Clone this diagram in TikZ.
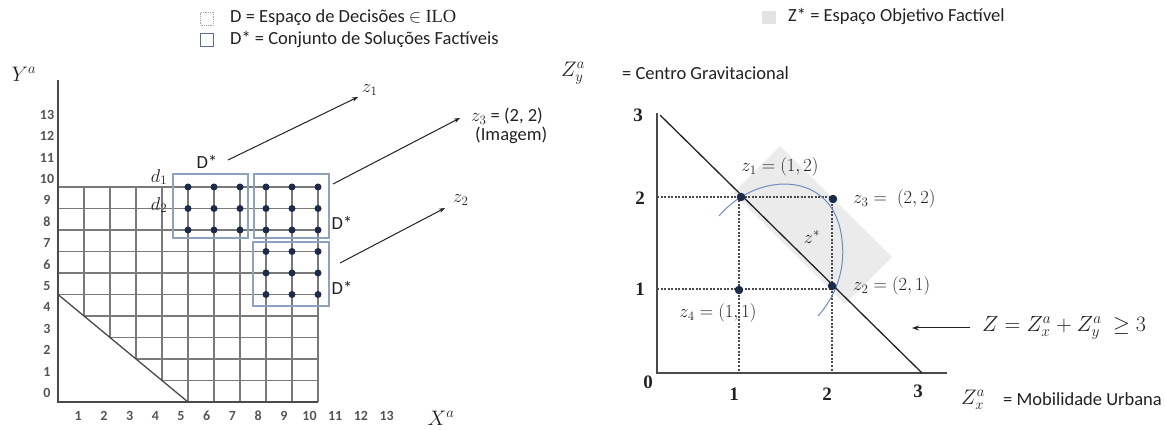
\RequirePackage{fix-cm}
\documentclass[tikz,border=0pt]{standalone}
\usepackage{fontspec}
\setmainfont{Carlito}
\newfontfamily\serifilo{Liberation Serif}
\usetikzlibrary{arrows.meta}
\definecolor{gridc}{HTML}{7A7A7A}
\definecolor{axisc}{HTML}{4A4A4A}
\definecolor{boxc}{HTML}{8EA2C0}
\definecolor{dotc}{HTML}{1C2B4A}
\definecolor{arcc}{HTML}{6F8DBF}
\definecolor{shadec}{HTML}{EBEBEB}
\definecolor{numc}{HTML}{555555}
\definecolor{txtc}{HTML}{222222}
\definecolor{legb}{HTML}{5A6E92}
\begin{document}
\begin{tikzpicture}[x=1pt,y=-1pt,
  lbl/.style={font=\fontsize{18.5}{20}\selectfont, text=txtc, inner sep=0pt},
  mlbl/.style={font=\fontsize{18.5}{20}\selectfont, text=txtc, inner sep=0pt},
  big/.style={font=\fontsize{22}{24}\selectfont, text=txtc, inner sep=0pt},
  num/.style={font=\fontsize{14}{16}\selectfont\bfseries, text=numc, inner sep=0pt},
  rnum/.style={font=\fontsize{19}{21}\selectfont\serifilo\bfseries, text=txtc, inner sep=0pt},
  gridl/.style={draw=gridc, line width=1.1pt},
  axisl/.style={draw=axisc, line width=1.3pt},
  dbox/.style={draw=boxc, line width=1.1pt},
  dotn/.style={circle, fill=dotc, inner sep=0pt, minimum size=7pt},
  rdot/.style={circle, fill=dotc, inner sep=0pt, minimum size=8.5pt},
  arr/.style={draw=txtc, line width=1pt, -{Stealth[length=6pt,width=4.5pt]}},
  dotl/.style={draw=axisc, line width=1.1pt, dash pattern=on 2pt off 1.5pt},
]
\useasboundingbox (0,0) rectangle (1165,430);

% ---------- left legend ----------
\node[draw=gray!70, densely dotted, line width=0.8pt, fill=white, minimum width=13pt, minimum height=13pt, inner sep=0pt] (lb1) at (207,18.5) {};
\node[draw=legb, line width=1.2pt, fill=white, minimum width=13pt, minimum height=13pt, inner sep=0pt] (lb2) at (207,40) {};
\node[lbl, anchor=west] (lt1) at (230,18) {D = Espaço de Decisões $\in$ {\serifilo ILO}};
\node[lbl, anchor=west] (lt2) at (230,40) {D* = Conjunto de Soluções Factíveis};

% ---------- left chart ----------
\begin{scope}
\clip (58,187) -- (318,187) -- (318,402) -- (188,402) -- (58,294.5) -- cycle;
\foreach \i in {1,...,9} \draw[gridl] ({58+26*\i},187) -- ({58+26*\i},402);
\foreach \j in {1,...,10} \draw[gridl] (58,{187+21.5*\j}) -- (318,{187+21.5*\j});
\end{scope}
\draw[gridl] (58,187) -- (318,187);
\draw[gridl] (318,187) -- (318,402);
\draw[axisl] (58,294.5) -- (188,402);
\draw[axisl] (58,80) -- (58,402) -- (318,402);

\foreach \k in {0,...,13} \node[num] (yl\k) at (47,{393-21.4*\k}) {\k};
\foreach \k in {1,...,13} \node[num] (xl\k) at ({52.5+25.7*\k},416) {\k};
\node[font=\fontsize{21}{23}\selectfont, text=txtc, inner sep=0pt] (Ya) at (24,74) {$Y^a$};
\node[font=\fontsize{21}{23}\selectfont, text=txtc, inner sep=0pt] (Xa) at (441,418) {$X^a$};

% D* boxes
\draw[dbox] (173,174) rectangle (248,238);
\draw[dbox] (254,174) rectangle (329,238);
\draw[dbox] (253,242) rectangle (329,306);
\foreach \x in {188,214,240} \foreach \y in {187,208.5,230} \node[dotn] at (\x,\y) {};
\foreach \x in {266,292,318} \foreach \y in {187,208.5,230} \node[dotn] at (\x,\y) {};
\foreach \x in {266,292,318} \foreach \y in {251.5,273,294.5} \node[dotn] at (\x,\y) {};

\node[mlbl] (d1) at (159,177) {$d_1$};
\node[mlbl] (d2) at (159,205) {$d_2$};
\node[lbl] (ds1) at (207,162) {D*};
\node[lbl] (ds2) at (342,223) {D*};
\node[lbl] (ds3) at (342,288) {D*};

\coordinate (s1) at (228,160);
\coordinate (e1) at (358,97);
\coordinate (s2) at (333,184);
\coordinate (e2) at (460,118);
\coordinate (s3) at (340,263);
\coordinate (e3) at (445,208);
\draw[arr] (s1) -- (e1);
\draw[arr] (s2) -- (e2);
\draw[arr] (s3) -- (e3);
\node[mlbl, anchor=west] (z1l) at (362,90) {$z_1$};
\node[mlbl, anchor=west] (z3l) at (471,116) {$z_3$ = (2, 2)};
\node[lbl, anchor=west] (img) at (475,135) {(Imagem)};
\node[mlbl, anchor=west] (z2l) at (453,200) {$z_2$};

% ---------- right legend ----------
\node[fill=gray!22, minimum width=14pt, minimum height=13pt, inner sep=0pt] (rb) at (769,17.5) {};
\node[lbl, anchor=west] (rt) at (788,17) {Z* = Espaço Objetivo Factível};
\node[font=\fontsize{21}{23}\selectfont, text=txtc, inner sep=0pt] (Zy) at (573,73) {$Z_y^a$};
\node[lbl, anchor=west] (cg) at (622,73) {= Centro Gravitacional};

% ---------- right chart ----------
\fill[shadec] (733,193) -- (780,146) -- (892,257) -- (845,304) -- cycle;
\draw[axisl] (657,113) -- (657,373) -- (947,373);
\draw[dotl] (657,197) -- (832,197);
\draw[dotl] (657,289) -- (832,289);
\draw[dotl] (739,197) -- (739,373);
\draw[dotl] (832,197) -- (832,373);
\draw[draw=arcc, line width=1pt] (719,216) .. controls (758,170) and (835,170) .. (842,240) .. controls (846,272) and (834,298) .. (818,316);
\draw[draw=txtc, line width=1.3pt] (660,115) -- (922,373);
\node[rdot] (p1) at (741,197) {};
\node[rdot] (p3) at (833,199) {};
\node[rdot] (p2) at (832,286) {};
\node[rdot] (p4) at (739,290) {};

\node[rnum] (r3) at (638,115) {3};
\node[rnum] (r2) at (640,198) {2};
\node[rnum] (r1) at (640,289) {1};
\node[rnum] (r0) at (648,382) {0};
\node[rnum] (c1) at (734,394) {1};
\node[rnum] (c2) at (827,394) {2};
\node[rnum] (c3) at (918,391) {3};

\node[mlbl] (z1r) at (780,167) {$z_1 = (1,2)$};
\node[mlbl, anchor=west] (z3r) at (853,199) {$z_3 =\;(2,2)$};
\node[mlbl, anchor=west] (z2r) at (853,286) {$z_2 = (2,1)$};
\node[mlbl] (z4r) at (718,313) {$z_4 = (1,1)$};
\node[mlbl] (zs) at (812,237) {$z^{*}$};

\node[big, anchor=west] (Zeq) at (982,328) {$Z = Z_x^a + Z_y^a\ \geq 3$};
\coordinate (ae) at (912,328);
\draw[draw=txtc, line width=1pt, -{Stealth[length=7pt,width=5pt]}] (Zeq.west) ++(-12,0) -- (ae);
\node[font=\fontsize{21}{23}\selectfont, text=txtc, inner sep=0pt] (Zx) at (973,400) {$Z_x^a$};
\node[lbl, anchor=west] (mu) at (1003,399) {= Mobilidade Urbana};
\end{tikzpicture}
\end{document}
